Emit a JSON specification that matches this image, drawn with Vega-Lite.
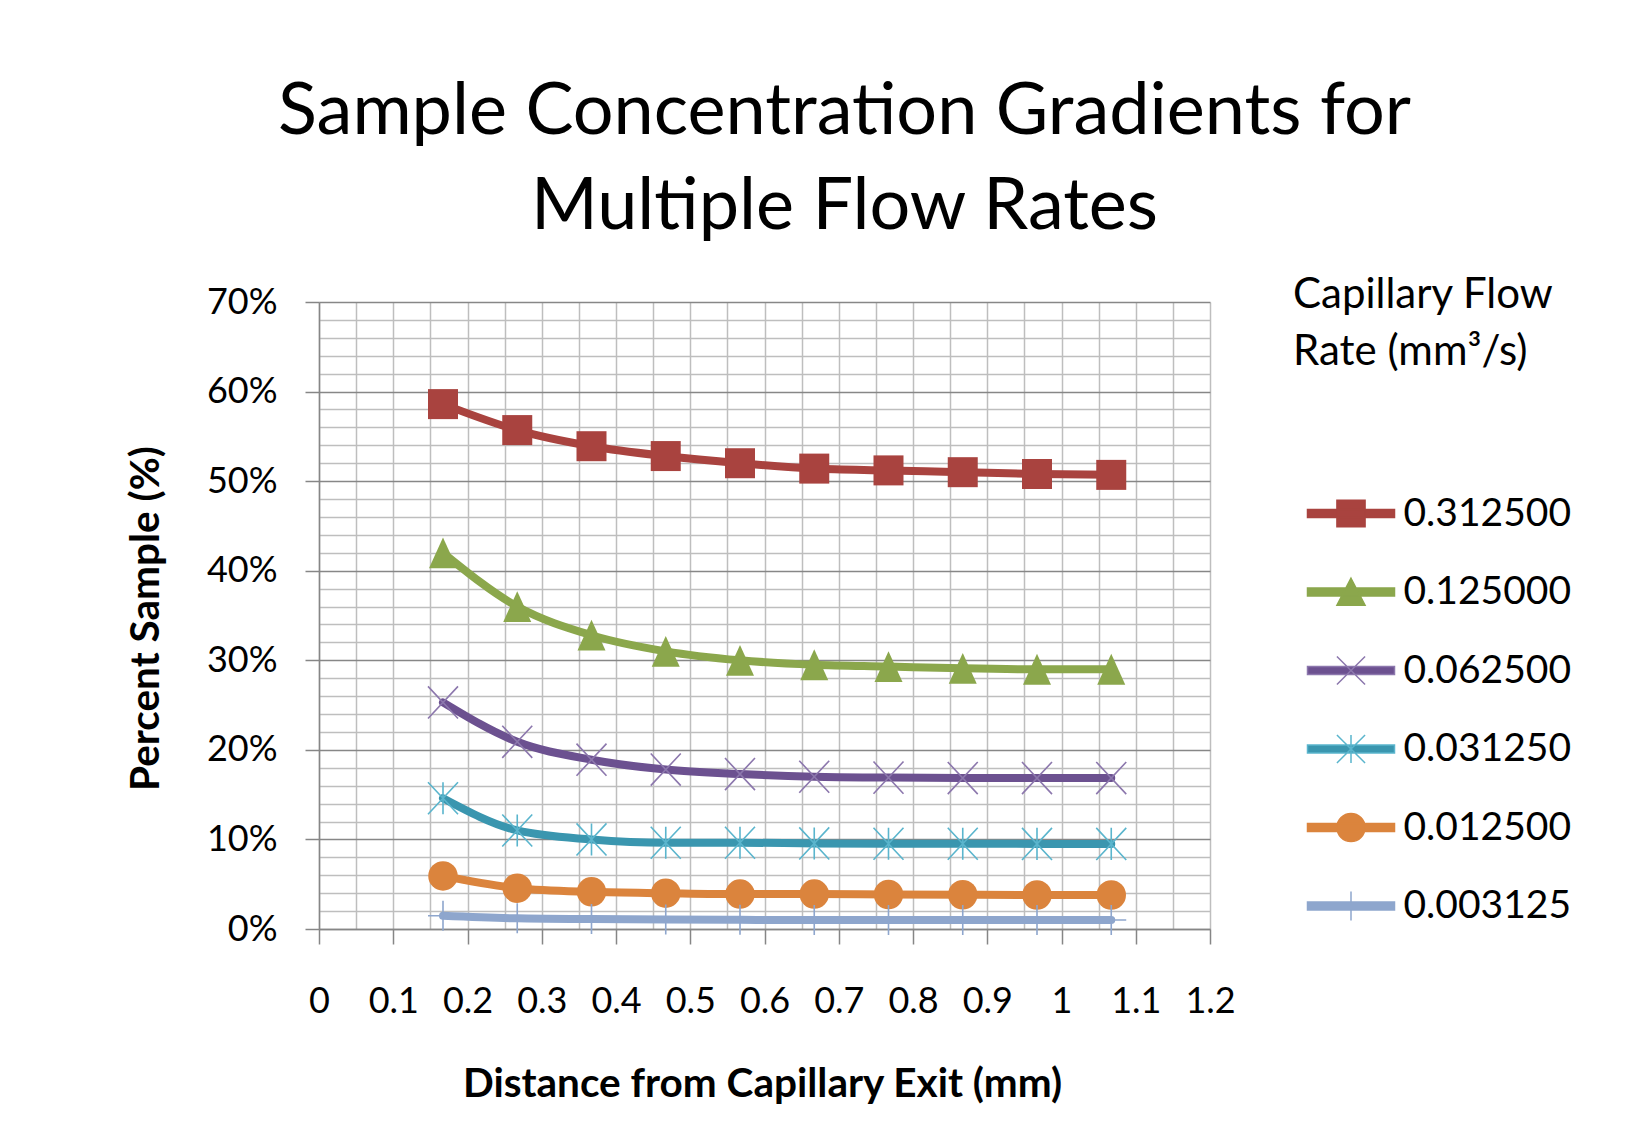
{
  "$schema": "https://vega.github.io/schema/vega-lite/v6.json",
  "width": 891,
  "height": 627,
  "autosize": {"type": "none"},
  "padding": {"left": 319, "top": 302, "right": 429, "bottom": 207},
  "background": "white",
  "config": {"font": "Lato", "view": {"stroke": null}},
  "title": {
    "text": ["Sample Concentration Gradients for", "Multiple Flow Rates"],
    "fontSize": 72, "font": "Lato", "fontWeight": "normal", "color": "black",
    "anchor": "middle", "frame": "group", "dx": 80, "lineHeight": 95,
    "baseline": "bottom", "offset": -41
  },
  "data": {"values": [
    {"d": 0.167, "rate": "0.312500", "p": 0.586},
    {"d": 0.267, "rate": "0.312500", "p": 0.557},
    {"d": 0.367, "rate": "0.312500", "p": 0.539},
    {"d": 0.467, "rate": "0.312500", "p": 0.528},
    {"d": 0.567, "rate": "0.312500", "p": 0.520},
    {"d": 0.667, "rate": "0.312500", "p": 0.514},
    {"d": 0.767, "rate": "0.312500", "p": 0.512},
    {"d": 0.867, "rate": "0.312500", "p": 0.510},
    {"d": 0.967, "rate": "0.312500", "p": 0.508},
    {"d": 1.067, "rate": "0.312500", "p": 0.507},
    {"d": 0.167, "rate": "0.125000", "p": 0.420},
    {"d": 0.267, "rate": "0.125000", "p": 0.360},
    {"d": 0.367, "rate": "0.125000", "p": 0.328},
    {"d": 0.467, "rate": "0.125000", "p": 0.310},
    {"d": 0.567, "rate": "0.125000", "p": 0.300},
    {"d": 0.667, "rate": "0.125000", "p": 0.295},
    {"d": 0.767, "rate": "0.125000", "p": 0.293},
    {"d": 0.867, "rate": "0.125000", "p": 0.291},
    {"d": 0.967, "rate": "0.125000", "p": 0.290},
    {"d": 1.067, "rate": "0.125000", "p": 0.290},
    {"d": 0.167, "rate": "0.062500", "p": 0.253},
    {"d": 0.267, "rate": "0.062500", "p": 0.209},
    {"d": 0.367, "rate": "0.062500", "p": 0.189},
    {"d": 0.467, "rate": "0.062500", "p": 0.178},
    {"d": 0.567, "rate": "0.062500", "p": 0.173},
    {"d": 0.667, "rate": "0.062500", "p": 0.170},
    {"d": 0.767, "rate": "0.062500", "p": 0.169},
    {"d": 0.867, "rate": "0.062500", "p": 0.1685},
    {"d": 0.967, "rate": "0.062500", "p": 0.1685},
    {"d": 1.067, "rate": "0.062500", "p": 0.1685},
    {"d": 0.167, "rate": "0.031250", "p": 0.146},
    {"d": 0.267, "rate": "0.031250", "p": 0.110},
    {"d": 0.367, "rate": "0.031250", "p": 0.100},
    {"d": 0.467, "rate": "0.031250", "p": 0.0963},
    {"d": 0.567, "rate": "0.031250", "p": 0.0963},
    {"d": 0.667, "rate": "0.031250", "p": 0.0955},
    {"d": 0.767, "rate": "0.031250", "p": 0.0952},
    {"d": 0.867, "rate": "0.031250", "p": 0.0952},
    {"d": 0.967, "rate": "0.031250", "p": 0.095},
    {"d": 1.067, "rate": "0.031250", "p": 0.095},
    {"d": 0.167, "rate": "0.012500", "p": 0.0593},
    {"d": 0.267, "rate": "0.012500", "p": 0.0456},
    {"d": 0.367, "rate": "0.012500", "p": 0.0415},
    {"d": 0.467, "rate": "0.012500", "p": 0.0400},
    {"d": 0.567, "rate": "0.012500", "p": 0.0390},
    {"d": 0.667, "rate": "0.012500", "p": 0.0390},
    {"d": 0.767, "rate": "0.012500", "p": 0.0385},
    {"d": 0.867, "rate": "0.012500", "p": 0.0382},
    {"d": 0.967, "rate": "0.012500", "p": 0.0380},
    {"d": 1.067, "rate": "0.012500", "p": 0.0380},
    {"d": 0.167, "rate": "0.003125", "p": 0.0148},
    {"d": 0.267, "rate": "0.003125", "p": 0.0119},
    {"d": 0.367, "rate": "0.003125", "p": 0.0111},
    {"d": 0.467, "rate": "0.003125", "p": 0.0105},
    {"d": 0.567, "rate": "0.003125", "p": 0.0102},
    {"d": 0.667, "rate": "0.003125", "p": 0.0100},
    {"d": 0.767, "rate": "0.003125", "p": 0.0100},
    {"d": 0.867, "rate": "0.003125", "p": 0.0100},
    {"d": 0.967, "rate": "0.003125", "p": 0.0100},
    {"d": 1.067, "rate": "0.003125", "p": 0.0100}
  ]},
  "encoding": {
    "x": {
      "field": "d", "type": "quantitative",
      "scale": {"domain": [0, 1.2], "nice": false, "zero": false},
      "axis": {
        "values": [0,0.05,0.1,0.15,0.2,0.25,0.3,0.35,0.4,0.45,0.5,0.55,0.6,0.65,0.7,0.75,0.8,0.85,0.9,0.95,1,1.05,1.1,1.15,1.2],
        "labelExpr": "abs(datum.value*10 - round(datum.value*10)) < 0.001 ? format(datum.value, '.1~f') : ''",
        "tickOpacity": {"condition": {"test": "abs(datum.value*10 - round(datum.value*10)) < 0.001", "value": 1}, "value": 0},
        "tickSize": 15, "tickColor": "#868686", "tickWidth": 1.5,
        "domainColor": "#868686", "domainWidth": 1.5,
        "grid": true, "gridColor": "#BEBEBE", "gridWidth": 1.5,
        "labelFontSize": 36, "labelFont": "Lato", "labelColor": "black", "labelPadding": 40,
        "labelOverlap": false, "labelFlush": false, "labelBound": false,
        "title": "Distance from Capillary Exit (mm)",
        "titleFontSize": 40.5, "titleFont": "Lato", "titleFontWeight": "bold", "titleColor": "black",
        "titleX": 443, "titleY": 155, "titleAlign": "center", "titleBaseline": "middle", "titleAnchor": null
      }
    },
    "y": {
      "field": "p", "type": "quantitative",
      "scale": {"domain": [0, 0.7], "nice": false},
      "axis": {
        "values": [0,0.02,0.04,0.06,0.08,0.1,0.12,0.14,0.16,0.18,0.2,0.22,0.24,0.26,0.28,0.3,0.32,0.34,0.36,0.38,0.4,0.42,0.44,0.46,0.48,0.5,0.52,0.54,0.56,0.58,0.6,0.62,0.64,0.66,0.68,0.7],
        "labelExpr": "abs(datum.value*10 - round(datum.value*10)) < 0.001 ? format(datum.value, '.0%') : ''",
        "tickOpacity": {"condition": {"test": "abs(datum.value*10 - round(datum.value*10)) < 0.001", "value": 1}, "value": 0},
        "tickSize": 14, "tickColor": "#868686", "tickWidth": 1.5,
        "domainColor": "#868686", "domainWidth": 1.5,
        "grid": true,
        "gridColor": {"condition": {"test": "abs(datum.value*10 - round(datum.value*10)) < 0.001", "value": "#878787"}, "value": "#BEBEBE"},
        "gridWidth": 1.5,
        "labelFontSize": 36, "labelFont": "Lato", "labelColor": "black", "labelPadding": 28,
        "labelOverlap": false, "labelFlush": false, "labelBound": false,
        "title": "Percent Sample (%)",
        "titleFontSize": 40.5, "titleFont": "Lato", "titleFontWeight": "bold", "titleColor": "black",
        "titleAngle": 270, "titleX": -173, "titleY": 316, "titleAlign": "center", "titleBaseline": "middle", "titleAnchor": null
      }
    }
  },
  "layer": [
    {
      "mark": {"type": "line", "interpolate": "monotone", "strokeWidth": 8, "strokeCap": "round"},
      "encoding": {
        "color": {
          "field": "rate", "type": "nominal",
          "scale": {"domain": ["0.003125","0.012500","0.031250","0.062500","0.125000","0.312500"],
                    "range": ["#8EA6CD","#DB843D","#3A96AF","#6C5190","#8BA74C","#A9433F"]},
          "legend": null
        }
      }
    },
    {
      "transform": [{"filter": "datum.rate == '0.312500'"}],
      "mark": {"type": "point", "shape": "square", "filled": true, "size": 900, "opacity": 1, "color": "#A9433F"},
      "encoding": {}
    },
    {
      "transform": [{"filter": "datum.rate == '0.125000'"}],
      "mark": {"type": "point", "shape": "M0,-1.1L1,1.1L-1,1.1Z", "filled": true, "size": 784, "opacity": 1, "color": "#8BA74C"},
      "encoding": {}
    },
    {
      "transform": [{"filter": "datum.rate == '0.062500'"}],
      "mark": {"type": "point", "shape": "M-1,-1.07L1,1.07M-1,1.07L1,-1.07", "filled": false, "size": 900, "opacity": 1, "stroke": "#8C77AD", "strokeWidth": 1.6},
      "encoding": {}
    },
    {
      "transform": [{"filter": "datum.rate == '0.031250'"}],
      "mark": {"type": "point", "shape": "M-1,-1.07L1,1.07M-1,1.07L1,-1.07M0,-1.07L0,1.07", "filled": false, "size": 900, "opacity": 1, "stroke": "#5AB5CD", "strokeWidth": 1.6},
      "encoding": {}
    },
    {
      "transform": [{"filter": "datum.rate == '0.012500'"}],
      "mark": {"type": "point", "shape": "circle", "filled": true, "size": 870, "opacity": 1, "color": "#DB843D"},
      "encoding": {}
    },
    {
      "transform": [{"filter": "datum.rate == '0.003125'"}],
      "mark": {"type": "point", "shape": "M0,-1L0,1M-1,0L1,0", "filled": false, "size": 900, "opacity": 1, "stroke": "#8EA6CD", "strokeWidth": 1.6},
      "encoding": {}
    },
    {
      "mark": {"type": "point", "filled": true, "opacity": 0, "size": 841, "strokeWidth": 1.5},
      "encoding": {
        "shape": {
          "field": "rate", "type": "nominal",
          "scale": {"domain": ["0.312500","0.125000","0.062500","0.031250","0.012500","0.003125"],
                    "range": [
                      "M-3,-0.28L3,-0.28L3,0.28L-3,0.28Z M-0.97,-0.92L0.97,-0.92L0.97,0.92L-0.97,0.92Z",
                      "M-3,-0.28L3,-0.28L3,0.28L-3,0.28Z M0,-0.95L0.97,0.92L-0.97,0.92Z",
                      "M-3,-0.28L3,-0.28L3,0.28L-3,0.28Z M-0.97,-0.97L0.97,0.97M-0.97,0.97L0.97,-0.97",
                      "M-3,-0.28L3,-0.28L3,0.28L-3,0.28Z M-0.97,-0.97L0.97,0.97M-0.97,0.97L0.97,-0.97M0,-0.97L0,0.97",
                      "M-3,-0.28L3,-0.28L3,0.28L-3,0.28Z M-0.97,0A0.97,0.97 0 1,1 0.97,0A0.97,0.97 0 1,1 -0.97,0Z",
                      "M-3,-0.28L3,-0.28L3,0.28L-3,0.28Z M0,-1L0,1"
                    ]},
          "legend": {
            "title": ["Capillary Flow", "Rate (mm³/s)"],
            "orient": "none", "legendX": 974, "legendY": -27,
            "titleFontSize": 42, "titleFont": "Lato", "titleFontWeight": "normal", "titleColor": "black",
            "titleLineHeight": 57, "titlePadding": 120, "titleAnchor": "start", "titleBaseline": "top", "titleLimit": 400,
            "labelFontSize": 39, "labelFont": "Lato", "labelColor": "black", "labelOffset": 33, "labelLimit": 400, "labelBaseline": "middle",
            "symbolSize": 841, "symbolOffset": 38.5, "symbolStrokeWidth": 1.5, "symbolOpacity": 1,
            "rowPadding": 38.5, "padding": 0
          }
        },
        "fill": {
          "field": "rate", "type": "nominal",
          "scale": {"domain": ["0.312500","0.125000","0.062500","0.031250","0.012500","0.003125"],
                    "range": ["#A9433F","#8BA74C","#6C5190","#3A96AF","#DB843D","#8EA6CD"]},
          "legend": {
            "title": ["Capillary Flow", "Rate (mm³/s)"],
            "orient": "none", "legendX": 974, "legendY": -27,
            "titleFontSize": 42, "titleFont": "Lato", "titleFontWeight": "normal", "titleColor": "black",
            "titleLineHeight": 57, "titlePadding": 120, "titleAnchor": "start", "titleBaseline": "top", "titleLimit": 400,
            "labelFontSize": 39, "labelFont": "Lato", "labelColor": "black", "labelOffset": 33, "labelLimit": 400, "labelBaseline": "middle",
            "symbolSize": 841, "symbolOffset": 38.5, "symbolStrokeWidth": 1.5, "symbolOpacity": 1,
            "rowPadding": 38.5, "padding": 0
          }
        },
        "stroke": {
          "field": "rate", "type": "nominal",
          "scale": {"domain": ["0.312500","0.125000","0.062500","0.031250","0.012500","0.003125"],
                    "range": ["#A9433F","#8BA74C","#8C77AD","#5AB5CD","#DB843D","#8EA6CD"]},
          "legend": {
            "title": ["Capillary Flow", "Rate (mm³/s)"],
            "orient": "none", "legendX": 974, "legendY": -27,
            "titleFontSize": 42, "titleFont": "Lato", "titleFontWeight": "normal", "titleColor": "black",
            "titleLineHeight": 57, "titlePadding": 120, "titleAnchor": "start", "titleBaseline": "top", "titleLimit": 400,
            "labelFontSize": 39, "labelFont": "Lato", "labelColor": "black", "labelOffset": 33, "labelLimit": 400, "labelBaseline": "middle",
            "symbolSize": 841, "symbolOffset": 38.5, "symbolStrokeWidth": 1.5, "symbolOpacity": 1,
            "rowPadding": 38.5, "padding": 0
          }
        }
      }
    }
  ]
}
